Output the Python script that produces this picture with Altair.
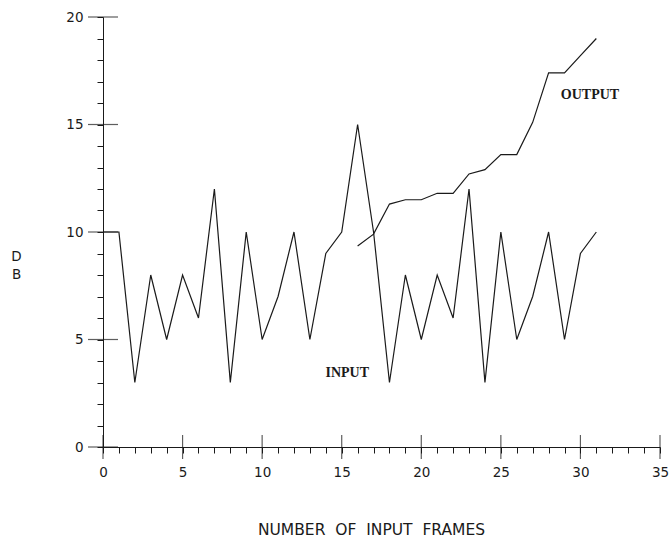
import altair as alt
import pandas as pd

# Input signal (dB) per frame
input_frames = list(range(0, 32))
input_db = [10, 10, 3, 8, 5, 8, 6, 12, 3, 10, 5, 7, 10, 5, 9, 10,
            15, 10, 3, 8, 5, 8, 6, 12, 3, 10, 5, 7, 10, 5, 9, 10]

# Output signal (dB) starting at frame 16
output_frames = list(range(16, 32))
output_db = [9.35, 9.9, 11.3, 11.5, 11.5, 11.8, 11.8, 12.7,
             12.9, 13.6, 13.6, 15.1, 17.4, 17.4, 18.2, 19.0]

# Annotation labels
label_text = ["INPUT", "OUTPUT"]
label_x = [15.35, 30.6]
label_y = [3.45, 16.37]

major_x = [0, 5, 10, 15, 20, 25, 30, 35]
major_y = [0, 5, 10, 15, 20]
minor_x = list(range(0, 36))
minor_y = list(range(0, 21))

df_in = pd.DataFrame({"frame": input_frames, "db": input_db})
df_out = pd.DataFrame({"frame": output_frames, "db": output_db})
df_lab = pd.DataFrame({"t": label_text, "x": label_x, "y": label_y})
df_mx = pd.DataFrame({"v": major_x})
df_my = pd.DataFrame({"v": major_y})

FONT = "DejaVu Sans"
INK = "#1a1a1a"
NB = "\u00a0"

xscale = alt.Scale(domain=[0, 35], nice=False, zero=False)
yscale = alt.Scale(domain=[0, 20], nice=False, zero=False)

x_axis = alt.Axis(
    values=minor_x, tickSize=6, tickColor=INK, domainColor=INK, grid=False,
    labelExpr="datum.value % 5 == 0 ? datum.label : ''",
    labelFont=FONT, labelFontSize=13.5, labelColor=INK, labelPadding=12,
    title=f"NUMBER{NB} OF{NB} INPUT{NB} FRAMES", titleFont=FONT, titleFontSize=15.5,
    titleFontWeight="normal", titleColor=INK, titleX=268, titleY=87,
    titleAlign="center", titleBaseline="alphabetic", labelFlush=False,
)
y_axis = alt.Axis(
    values=minor_y, tickSize=6, tickColor=INK, domainColor=INK, grid=False,
    labelExpr="datum.value % 5 == 0 ? datum.label : ''",
    labelFont=FONT, labelFontSize=13.5, labelColor=INK, labelPadding=14,
    title=["D", "B"], titleFont=FONT, titleFontSize=13.5, titleFontWeight="normal",
    titleColor=INK, titleAngle=0, titleX=-87, titleY=232, titleAlign="center",
    titleBaseline="top", titleLineHeight=18, labelFlush=False,
)

line_in = alt.Chart(df_in).mark_line(color=INK, strokeWidth=1.2).encode(
    x=alt.X("frame:Q", scale=xscale, axis=x_axis),
    y=alt.Y("db:Q", scale=yscale, axis=y_axis),
)
line_out = alt.Chart(df_out).mark_line(color=INK, strokeWidth=1.2).encode(
    x=alt.X("frame:Q", scale=xscale, axis=x_axis),
    y=alt.Y("db:Q", scale=yscale, axis=y_axis),
)
ticks_y = alt.Chart(df_my).mark_tick(orient="horizontal", size=30, thickness=1.2, color=INK).encode(
    y=alt.Y("v:Q", scale=yscale, axis=y_axis),
    x=alt.datum(0, scale=xscale, axis=x_axis),
)
ticks_x = alt.Chart(df_mx).mark_tick(orient="vertical", size=24, thickness=1.2, color=INK).encode(
    x=alt.X("v:Q", scale=xscale, axis=x_axis),
    y=alt.datum(0, scale=yscale, axis=y_axis),
)
labels = alt.Chart(df_lab).mark_text(
    font="Liberation Serif", fontWeight="bold", fontSize=14, color=INK,
    align="center", baseline="middle",
).encode(
    x=alt.X("x:Q", scale=xscale, axis=x_axis),
    y=alt.Y("y:Q", scale=yscale, axis=y_axis),
    text="t:N",
)

chart = alt.layer(line_in, line_out, ticks_y, ticks_x, labels).properties(
    width=557, height=430,
    autosize=alt.AutoSizeParams(type="none"),
    padding={"left": 103, "top": 17, "right": 10, "bottom": 90},
    background="white",
).configure_view(stroke=None)

chart.save("out.html", embed_options={"renderer": "svg", "actions": False})
